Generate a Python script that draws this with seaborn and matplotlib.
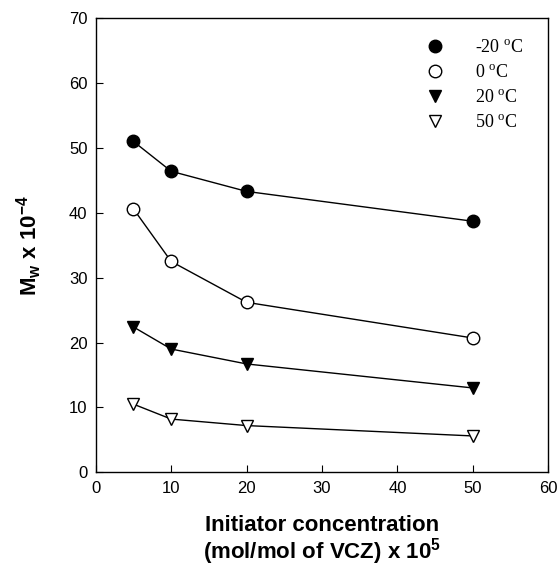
import numpy as np
import pandas as pd
import matplotlib
matplotlib.use('Agg')
import matplotlib.pyplot as plt
import seaborn as sns
from matplotlib.lines import Line2D

conc = [5, 10, 20, 50]
temps = ['-20', '0', '20', '50']
mw_m20 = [51.0, 46.4, 43.3, 38.7]
mw_0 = [40.6, 32.5, 26.2, 20.7]
mw_20 = [22.4, 19.0, 16.7, 13.0]
mw_50 = [10.5, 8.2, 7.2, 5.6]

df = pd.DataFrame({
    'conc': conc * 4,
    'mw': mw_m20 + mw_0 + mw_20 + mw_50,
    'temp': [t for t in temps for _ in conc],
})

sns.set_style('ticks', {'text.color': 'black', 'axes.labelcolor': 'black',
                        'xtick.color': 'black', 'ytick.color': 'black',
                        'axes.edgecolor': 'black'})
plt.rcParams['font.family'] = ['Liberation Sans', 'DejaVu Sans']
plt.rcParams['mathtext.default'] = 'regular'

fig = plt.figure(figsize=(5.6, 5.69), dpi=100)
ax = fig.add_axes([0.171, 0.170, 0.808, 0.798])

styles = {'-20': ('o', 'black'), '0': ('o', 'white'),
          '20': ('v', 'black'), '50': ('v', 'white')}
handles = []
for t in temps:
    m, fc = styles[t]
    sub = df[df['temp'] == t]
    sns.lineplot(data=sub, x='conc', y='mw', ax=ax, color='black', lw=1,
                 marker=m, markersize=9, markerfacecolor=fc,
                 markeredgecolor='black', markeredgewidth=1)
    handles.append(Line2D([], [], ls='none', marker=m, markersize=9,
                          markerfacecolor=fc, markeredgecolor='black'))

ax.set_xlim(0, 60)
ax.set_ylim(0, 70)
ax.set_xticks(range(0, 61, 10))
ax.set_yticks(range(0, 71, 10))
ax.tick_params(direction='in', length=5, labelsize=12, pad=6)
for s in ax.spines.values():
    s.set_linewidth(1)
    s.set_visible(True)

ax.set_xlabel('Initiator concentration\n(mol/mol of VCZ) x 10$^{5}$',
              fontsize=16, fontweight='bold', labelpad=14, linespacing=1.0)
ax.set_ylabel('M$_{w}$ x 10$^{-4}$', fontsize=16, fontweight='bold', labelpad=18)

labels = ['-20 $^{o}$C', '0 $^{o}$C', '20 $^{o}$C', '50 $^{o}$C']
leg = ax.legend(handles, labels, loc='upper right', frameon=False,
                prop={'family': 'Liberation Serif', 'size': 13},
                handletextpad=1.2, labelspacing=0.45,
                bbox_to_anchor=(0.98, 0.99))

fig.savefig('out.png', dpi=100)
